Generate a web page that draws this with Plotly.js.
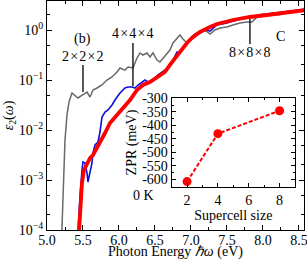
<!DOCTYPE html>
<html>
<head>
<meta charset="utf-8">
<script src="https://cdn.plot.ly/plotly-3.0.1.min.js"></script>
<style>html,body{margin:0;padding:0;background:#fff;}#chart{width:307px;height:260px;}</style>
</head>
<body>
<div id="chart"></div>
<script>
// ---- 2x2x2 supercell (gray)
const energy222 = [5.200,5.208,5.229,5.250,5.278,5.306,5.347,5.389,5.431,5.472,5.514,5.556,5.597,5.639,5.694,5.764,5.833,5.903,5.972,6.014,6.083,6.125,6.194,6.250,6.292,6.333,6.389,6.431,6.472,6.528,6.569,6.639,6.708,6.750,6.806,6.847,6.889,6.944,6.986,7.056,7.125,7.194,7.264,7.333,7.403,7.500,7.583,7.681,7.778,7.847,7.917,7.986,8.069,8.139,8.208,8.306,8.417,8.569];
const eps222 = [5e-5,1.0e-4,1.0e-3,0.00631,0.0200,0.0363,0.0550,0.0479,0.0437,0.0479,0.0525,0.0575,0.0457,0.0631,0.0692,0.0794,0.100,0.115,0.145,0.174,0.158,0.182,0.174,0.275,0.347,0.316,0.347,0.288,0.347,0.251,0.229,0.302,0.398,0.550,0.692,0.794,0.661,0.550,0.661,0.724,0.871,1.0,0.832,1.0,1.096,1.148,1.259,1.380,1.445,1.445,1.820,2.089,1.995,2.188,1.995,2.188,2.291,2.512];

// ---- 4x4x4 supercell (blue)
const energy444 = [5.424,5.431,5.458,5.486,5.500,5.528,5.556,5.569,5.597,5.625,5.639,5.667,5.708,5.736,5.764,5.806,5.847,5.903,5.944,6.014,6.083,6.125,6.181,6.222,6.264,6.319,6.361,6.403,6.472,6.542,6.611,6.681,6.736,6.778,6.806,6.847,6.889,6.944,6.986,7.056,7.125,7.222,7.264,7.306,7.361,7.500,7.639,7.819,7.958,8.097,8.278,8.472,8.597];
const eps444 = [6.31e-5,1.0e-4,4.57e-4,1.585e-3,2.29e-3,2.19e-3,1.38e-3,9.12e-4,1.38e-3,2.19e-3,3.47e-3,5.01e-3,5.75e-3,9.12e-3,0.0182,0.0229,0.0251,0.0316,0.0398,0.0550,0.0692,0.0724,0.0724,0.0692,0.0794,0.0912,0.100,0.0912,0.100,0.126,0.145,0.174,0.229,0.316,0.363,0.363,0.437,0.550,0.661,0.832,0.912,1.0,0.955,1.096,1.259,1.380,1.585,1.820,1.995,2.138,2.291,2.512,2.630];

// ---- 8x8x8 supercell (red)
const energy888 = [5.4375,5.444,5.472,5.486,5.514,5.556,5.597,5.639,5.694,5.736,5.806,5.875,5.972,6.056,6.153,6.250,6.333,6.431,6.528,6.639,6.708,6.778,6.847,6.944,7.028,7.125,7.264,7.361,7.583,7.819,8.056,8.278,8.472,8.597];
const eps888 = [6.31e-5,1.0e-4,3.47e-4,8.71e-4,1.585e-3,2.19e-3,2.75e-3,3.16e-3,4.37e-3,5.50e-3,8.71e-3,0.0138,0.0200,0.0275,0.0398,0.0631,0.0794,0.0912,0.115,0.145,0.200,0.275,0.380,0.550,0.724,0.912,1.148,1.318,1.585,1.820,1.995,2.188,2.344,2.512];

// ---- inset: zero-point renormalisation vs supercell size
const supercellSize = [2,4,8];
const zprMeV = [-609,-431,-346];

// ---- tick labels
const yTickVals = [1e-4,1e-3,1e-2,1e-1,1];
const yTickText = ['10<sup>−4</sup>','10<sup>−3</sup>','10<sup>−2</sup>','10<sup>−1</sup>','10<sup>0</sup>'];
const insetYVals = [-600,-550,-500,-450,-400,-350,-300];
const insetYText = ['-600','-550','-500','-450','-400','-350','-300'];
const insetXVals = [2,4,6,8];

const minorY = [];
[-5,-4,-3,-2,-1,0].forEach(d => [2,5].forEach(m => minorY.push(m*Math.pow(10,d))));

const F = 'Liberation Serif, Times New Roman, serif';

const traces = [
  {x: energy222, y: eps222, type:'scatter', mode:'lines', line:{color:'rgb(105,105,105)', width:1.5}, xaxis:'x', yaxis:'y'},
  {x: energy444, y: eps444, type:'scatter', mode:'lines', line:{color:'rgb(15,15,215)', width:1.6}, xaxis:'x', yaxis:'y'},
  {x: energy888, y: eps888, type:'scatter', mode:'lines', line:{color:'#ff0000', width:3.8}, xaxis:'x', yaxis:'y'},
  {x: supercellSize, y: zprMeV, type:'scatter', mode:'lines+markers', line:{color:'#ff0000', width:2, dash:'4px,2px'}, marker:{color:'#ff0000', size:9}, xaxis:'x2', yaxis:'y2'}
];

const axBase = {showline:true, linecolor:'black', linewidth:1, mirror:'ticks', ticks:'inside', tickcolor:'black', ticklen:5, tickwidth:1, showgrid:false, zeroline:false, ticklabeloverflow:'allow', tickfont:{family:F, size:14, color:'black'}};

const layout = {
  width:307, height:260,
  margin:{l:47, r:3, t:1, b:30},
  paper_bgcolor:'white', plot_bgcolor:'white',
  font:{family:F, size:14, color:'black'},
  showlegend:false,
  xaxis: Object.assign({}, axBase, {
    range:[5,8.57], dtick:0.5, tick0:5, tickformat:'.1f', ticklabelstandoff:-3,
    minor:{dtick:0.25, tick0:5, ticks:'inside', ticklen:3, tickcolor:'black', showgrid:false}
  }),
  yaxis: Object.assign({}, axBase, {
    type:'log', range:[-4,0.58], tickmode:'array', tickvals:yTickVals, ticktext:yTickText,
    minor:{tickmode:'array', tickvals:minorY, ticks:'inside', ticklen:3, tickcolor:'black', showgrid:false},
    title:{text:'<i>ε</i><sub>2</sub>(<i>ω</i>)', font:{family:F, size:14}, standoff:1}
  }),
  xaxis2: Object.assign({}, axBase, {
    domain:[0.485,0.965], anchor:'y2', range:[1,9], tickmode:'array', tickvals:insetXVals, ticklen:4,
    minor:{dtick:1, tick0:1, ticks:'inside', ticklen:2, tickcolor:'black', showgrid:false},
    title:{text:'Supercell size', font:{family:F, size:14}, standoff:0}
  }),
  yaxis2: Object.assign({}, axBase, {
    domain:[0.189,0.575], anchor:'x2', range:[-628,-300], tickmode:'array', tickvals:insetYVals, ticktext:insetYText, ticklen:4,
    minor:{dtick:25, tick0:-300, ticks:'inside', ticklen:2, tickcolor:'black', showgrid:false},
    title:{text:'ZPR (meV)', font:{family:F, size:14}, standoff:2}
  }),
  annotations: [
    {x:0.5, y:-0.1375, xref:'paper', yref:'paper', xanchor:'center', yanchor:'bottom', borderpad:0, text:'Photon Energy <i>ℏω</i> (eV)', showarrow:false, font:{family:F, size:14}},
    {x:5.5, y:Math.log10(0.0575), xref:'x', yref:'y', text:'2\u200a×\u200a2\u200a×\u200a2', showarrow:true, arrowhead:0, arrowwidth:1.3, arrowcolor:'black', ax:0, ay:-36, font:{family:F, size:14}},
    {x:6.194, y:Math.log10(0.0759), xref:'x', yref:'y', text:'4\u200a×\u200a4\u200a×\u200a4', showarrow:true, arrowhead:0, arrowwidth:1.3, arrowcolor:'black', ax:0, ay:-52, font:{family:F, size:14}},
    {x:7.819, y:Math.log10(1.66), xref:'x', yref:'y', text:'8\u200a×\u200a8\u200a×\u200a8', showarrow:true, arrowhead:0, arrowwidth:1.3, arrowcolor:'black', ax:0, ay:34, font:{family:F, size:14}},
    {x:0.097, y:0.878, xref:'paper', yref:'paper', text:'(b)', showarrow:false, font:{family:F, size:14}},
    {x:0.934, y:0.886, xref:'paper', yref:'paper', text:'C', showarrow:false, font:{family:F, size:14}},
    {x:0.327, y:0.109, xref:'paper', yref:'paper', text:'0 K', showarrow:false, font:{family:F, size:14}}
  ]
};

Plotly.newPlot('chart', traces, layout, {displayModeBar:false, staticPlot:true});
</script>
</body>
</html>
